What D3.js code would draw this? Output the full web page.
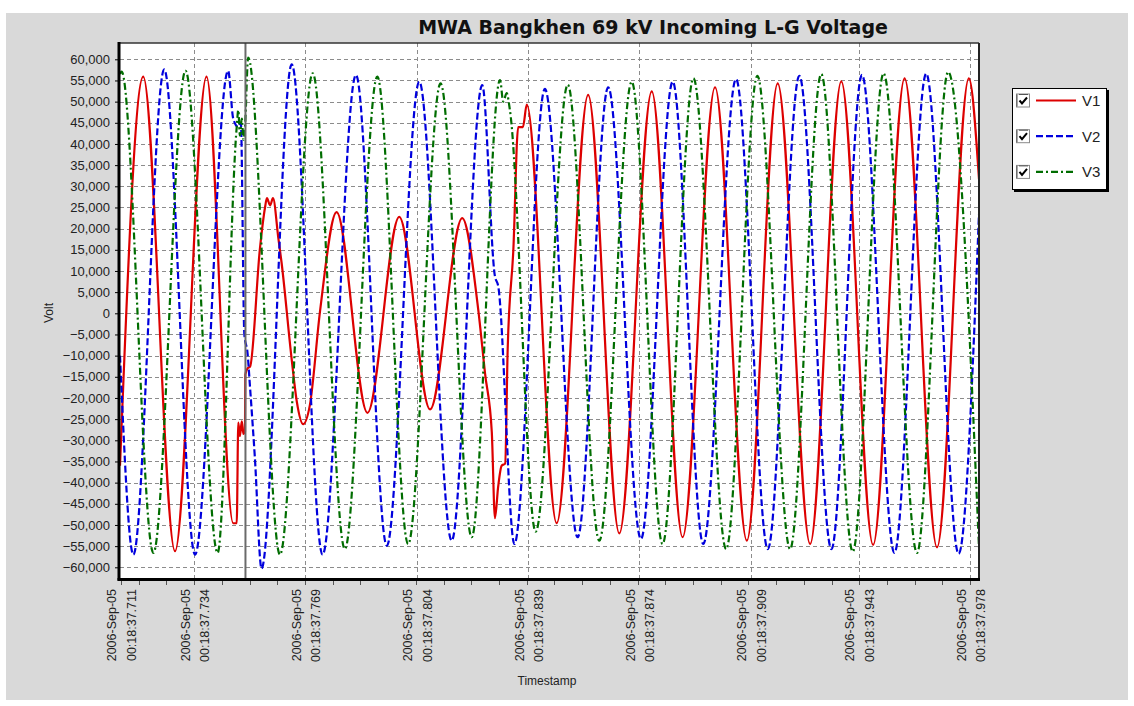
<!DOCTYPE html>
<html>
<head>
<meta charset="utf-8">
<script src="https://cdn.jsdelivr.net/npm/d3@7"></script>
<style>
  body { margin: 0; background: #fff; }
  svg text { font-family: "Liberation Sans", Arial, sans-serif; fill: #222; }
  svg text.title { font-family: "DejaVu Sans", sans-serif; font-weight: bold; font-size: 19px; fill: #111; }
</style>
</head>
<body>
<svg id="chart" width="1134" height="706"></svg>
<script>
// time in ms after 00:18:37, values in volt
const v1 = [
  [710.7, -36000], [718.0, 55900], [728.0, -56200], [737.9, 55900],
  [746.3, -49600], [747.4, -49600], [747.9, -25800], [748.4, -29000],
  [749.0, -25500], [749.5, -28500], [750.0, -28000], [750.1, -14500],
  [750.8, -13000], [751.6, -12600], [754.7, 15300], [756.3, 25000],
  [756.9, 27200], [757.9, 25500], [758.8, 27200], [760.5, 17700],
  [761.5, 12000], [764.7, -11000], [766.3, -20900], [768.3, -26200],
  [770.4, -21700], [773.6, 500], [778.8, 23900], [788.5, -23500],
  [798.5, 22800], [808.2, -22700], [818.3, 22500], [823.4, 500],
  [825.5, -14300], [827.6, -28000], [828.6, -48400], [829.6, -41000],
  [830.7, -36000], [831.8, -35500], [832.6, -8500], [834.4, 15300],
  [835.9, 44000], [837.4, 44000], [838.6, 49300], [848.0, -49600],
  [857.9, 51600], [867.7, -52000], [877.9, 52400], [887.6, -52900],
  [897.8, 53400], [907.8, -53700], [917.5, 54300], [927.7, -54500],
  [937.5, 54800], [947.5, -54700], [957.4, 55500], [967.6, -55300],
  [977.6, 55500], [980.8, 31700]
];

const v2 = [
  [710.7, -10000], [714.9, -57000], [724.6, 57600], [734.3, -57000],
  [744.7, 57300], [746.3, 46000], [747.9, 44000], [748.7, 45000],
  [749.8, -5000], [750.8, -9400], [751.6, -17600], [753.1, -34000],
  [755.2, -60300], [764.7, 58800], [774.4, -57000], [784.9, 56300],
  [794.6, -54900], [804.8, 54700], [815.0, -53700], [824.6, 53900],
  [828.6, 8700], [829.6, 6500], [834.7, -54500], [844.3, 53000],
  [854.6, -52900], [864.2, 53400], [874.5, -53300], [884.5, 54700],
  [894.1, -54500], [904.4, 55300], [914.4, -55700], [924.3, 56100],
  [934.4, -55700], [944.0, 56300], [954.2, -56600], [964.2, 56600],
  [974.4, -56800], [980.8, 23500]
];

const v3 = [
  [710.7, 56500], [711.2, 57100], [721.2, -56600], [731.3, 57300],
  [741.4, -56600], [747.4, 44000], [747.9, 48000], [748.4, 42000],
  [749.0, 46000], [749.5, 41000], [750.0, 44000], [751.0, 60400],
  [761.0, -57000], [771.3, 56700], [781.4, -55700], [791.6, 55900],
  [801.3, -54500], [811.5, 54300], [821.3, -52900], [830.2, 55100],
  [831.2, 50000], [832.3, 52000], [833.3, 48000], [841.4, -51600],
  [851.5, 54000], [861.4, -53700], [871.6, 54700], [881.3, -54500],
  [891.0, 55500], [901.3, -55700], [911.1, 56100], [921.4, -55700],
  [931.2, 56500], [941.1, -56300], [950.8, 56700], [961.3, -56600],
  [971.1, 57000], [980.8, -55300]
];

const seriesNames = ["V1", "V2", "V3"];
const cursorTime = 750.15;

const yTicks = [-60000, -55000, -50000, -45000, -40000, -35000, -30000, -25000,
  -20000, -15000, -10000, -5000, 0, 5000, 10000, 15000, 20000, 25000, 30000,
  35000, 40000, 45000, 50000, 55000, 60000];
const xTickTimes = [711, 734, 769, 804, 839, 874, 909, 943, 978];
const xTickLabels = ["00:18:37.711", "00:18:37.734", "00:18:37.769", "00:18:37.804",
  "00:18:37.839", "00:18:37.874", "00:18:37.909", "00:18:37.943", "00:18:37.978"];
const dateLabel = "2006-Sep-05";

const styles = [
  { color: "#dd0000", dash: null },
  { color: "#0000dd", dash: "7,3" },
  { color: "#006d00", dash: "7,3,2,3" }
];

const svg = d3.select("#chart");
const plot = { left: 120, right: 979, top: 43, bottom: 579 };

// gray panel
svg.append("rect").attr("x", 6).attr("y", 13).attr("width", 1122).attr("height", 687)
  .attr("fill", "#d9d9d9");

const x = d3.scaleLinear().domain([710.7, 980.8]).range([plot.left, plot.right]);
const y = d3.scaleLinear().domain([-62764, 63850]).range([plot.bottom, plot.top]);

svg.append("rect")
  .attr("x", plot.left).attr("y", plot.top)
  .attr("width", plot.right - plot.left).attr("height", plot.bottom - plot.top)
  .attr("fill", "#fff");

// grid
svg.append("g").selectAll("line").data(yTicks).join("line")
  .attr("x1", plot.left).attr("x2", plot.right)
  .attr("y1", d => Math.round(y(d)) + 0.5).attr("y2", d => Math.round(y(d)) + 0.5)
  .attr("stroke", "#8c8c8c").attr("stroke-dasharray", "4,3");

svg.append("g").selectAll("line").data(xTickTimes.slice(1)).join("line")
  .attr("x1", d => Math.round(x(d)) + 0.5).attr("x2", d => Math.round(x(d)) + 0.5)
  .attr("y1", plot.top).attr("y2", plot.bottom)
  .attr("stroke", "#8c8c8c").attr("stroke-dasharray", "4,3");

// series
svg.append("clipPath").attr("id", "clip").append("rect")
  .attr("x", plot.left).attr("y", plot.top)
  .attr("width", plot.right - plot.left).attr("height", plot.bottom - plot.top);

const line = d3.line()
  .x(d => x(d[0]))
  .y(d => y(d[1]))
  .curve(d3.curveMonotoneX);

const lines = svg.append("g").attr("clip-path", "url(#clip)");
[v1, v2, v3].forEach((data, i) => {
  lines.append("path")
    .datum(data)
    .attr("d", line)
    .attr("fill", "none")
    .attr("stroke", styles[i].color)
    .attr("stroke-width", 2.2)
    .attr("stroke-dasharray", styles[i].dash);
});

// cursor
svg.append("line")
  .attr("x1", x(cursorTime)).attr("x2", x(cursorTime))
  .attr("y1", plot.top).attr("y2", plot.bottom)
  .attr("stroke", "#6a6a6a").attr("stroke-width", 2);

// axes
const yAxis = svg.append("g")
  .attr("transform", `translate(${plot.left - 1},0)`)
  .call(d3.axisLeft(y).tickValues(yTicks).tickSize(4).tickFormat(d3.format(",")));
yAxis.select(".domain").remove();
yAxis.selectAll(".tick line").attr("stroke", "#000");
yAxis.selectAll("text").attr("font-size", 13).attr("x", -9)
  .attr("font-family", "Liberation Sans, Arial, sans-serif").attr("fill", "#2b2b3a");

// minor x ticks
const majors = xTickTimes.slice(1);
const step = (majors[majors.length - 1] - majors[0]) / (majors.length - 1) / 4;
const minor = d3.range(majors[0] - 2 * step, 981, step);

const xAxis = svg.append("g").attr("transform", `translate(0,${plot.bottom + 1})`);
xAxis.selectAll("line").data(minor.concat([711])).join("line")
  .attr("x1", d => Math.round(x(d)) + 0.5).attr("x2", d => Math.round(x(d)) + 0.5)
  .attr("y1", 0).attr("y2", 5).attr("stroke", "#555");

const labels = svg.append("g").selectAll("g").data(xTickTimes).join("g")
  .attr("transform", d => `translate(${x(d)},589) rotate(-90)`);
labels.append("text").attr("y", -4.5).attr("text-anchor", "end")
  .attr("font-size", 12.5).text(dateLabel);
labels.append("text").attr("y", 15).attr("text-anchor", "end")
  .attr("font-size", 12.5).text((d, i) => xTickLabels[i]);

// frame
svg.append("line").attr("x1", plot.left).attr("x2", plot.right)
  .attr("y1", plot.top).attr("y2", plot.top).attr("stroke", "#333").attr("stroke-width", 1.5);
svg.append("line").attr("x1", plot.right).attr("x2", plot.right)
  .attr("y1", plot.top).attr("y2", plot.bottom).attr("stroke", "#222").attr("stroke-width", 2);
svg.append("line").attr("x1", plot.left - 1).attr("x2", plot.left - 1)
  .attr("y1", plot.top - 1).attr("y2", plot.bottom + 1.5).attr("stroke", "#000").attr("stroke-width", 3);
svg.append("line").attr("x1", plot.left - 2.5).attr("x2", plot.right + 1)
  .attr("y1", plot.bottom + 0.5).attr("y2", plot.bottom + 0.5).attr("stroke", "#000").attr("stroke-width", 3);

// titles
svg.append("text").attr("class", "title").attr("x", 653).attr("y", 34).attr("text-anchor", "middle")
  .text("MWA Bangkhen 69 kV Incoming L-G Voltage");

svg.append("text").attr("x", 547).attr("y", 685).attr("text-anchor", "middle")
  .attr("font-size", 12).text("Timestamp");

svg.append("text").attr("transform", "translate(53,313) rotate(-90)")
  .attr("text-anchor", "middle").attr("font-size", 12).text("Volt");

// legend
const legend = svg.append("g").attr("transform", "translate(1012,88)");
legend.append("rect").attr("x", 2).attr("y", 2).attr("width", 95).attr("height", 102).attr("fill", "#000");
legend.append("rect").attr("x", 0.5).attr("y", 0.5).attr("width", 94).attr("height", 101)
  .attr("fill", "#fff").attr("stroke", "#000");

const rows = legend.selectAll(".row").data(seriesNames).join("g")
  .attr("class", "row")
  .attr("transform", (d, i) => `translate(0,${12.5 + i * 35.7})`);
rows.append("rect").attr("x", 4.5).attr("y", -6.5).attr("width", 13).attr("height", 13)
  .attr("fill", "#fff").attr("stroke", "#8a8a8a");
rows.append("path").attr("d", "M7,-6 L16,-6 M5,-6 L5,6").attr("stroke", "#555").attr("stroke-width", 1);
rows.append("path").attr("d", "M7.5,0 L10,3 L15,-3")
  .attr("fill", "none").attr("stroke", "#000").attr("stroke-width", 2);
rows.append("line").attr("x1", 24).attr("x2", 64).attr("y1", 0).attr("y2", 0)
  .attr("stroke", (d, i) => styles[i].color).attr("stroke-width", 2.2)
  .attr("stroke-dasharray", (d, i) => styles[i].dash);
rows.append("text").attr("x", 70).attr("y", 5.5).attr("font-size", 15).attr("fill", "#1a1a4a")
  .text(d => d);
</script>
</body>
</html>
